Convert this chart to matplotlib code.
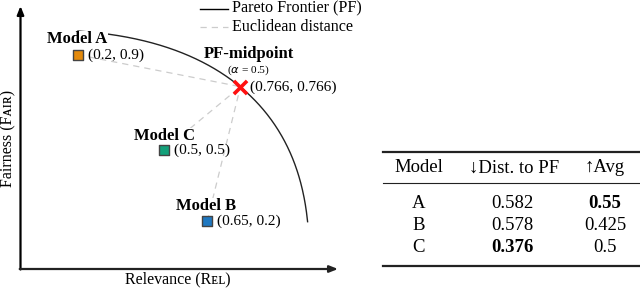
import numpy as np
import matplotlib
matplotlib.use("Agg")
import matplotlib.pyplot as plt

# ---- data ----
model_names = ["A", "B", "C"]
model_rel = [0.2, 0.65, 0.5]
model_fair = [0.9, 0.2, 0.5]
model_colors = ["#E48A0C", "#1F78C1", "#13A07A"]
mid_rel, mid_fair = 0.766, 0.766
alpha_val = 0.5
pf_exponent = 2.53          # shape of the frontier curve (superellipse)
pf_radius = 1.0066
pf_rel_range = (0.2, 1.0)

dist_to_pf = ["0.582", "0.578", "0.376"]
avg_vals = ["0.55", "0.425", "0.5"]
bold_dist = [False, False, True]
bold_avg = [True, False, False]

W, H = 640, 289
fig = plt.figure(figsize=(W / 100, H / 100), dpi=100)
ax = fig.add_axes([0, 0, 1, 1])
ax.set_axis_off()

# map data -> pixels: x_px = 20.6 + v*287 ; y_px(top) = 269 - v*238
x0, sx = 20.6, 287.0
y0, sy = 269.0, 238.0
ax.set_xlim((0 - x0) / sx, (W - x0) / sx)
ax.set_ylim((y0 - H) / sy, (y0 - 0) / sy)

FAM = ["Liberation Serif", "DejaVu Serif"]
plt.rcParams["font.family"] = FAM

def px(x, y):
    return ((x - x0) / sx, (y0 - y) / sy)

# axes arrows
ax.annotate("", xy=px(20.5, 6), xytext=px(20.5, 269.5),
            arrowprops=dict(arrowstyle="-|>,head_length=0.5,head_width=0.2", lw=1.6, color="black",
                            shrinkA=0, shrinkB=0))
ax.annotate("", xy=px(338, 269), xytext=px(19.7, 269),
            arrowprops=dict(arrowstyle="-|>,head_length=0.5,head_width=0.2", lw=1.6, color="#222222",
                            shrinkA=0, shrinkB=0))

# axis labels
ax.text(*px(178, 279), "Relevance (Rᴇʟ)", ha="center", va="center", fontsize=11.5, family=FAM)
ax.text(*px(8.5, 138), "Fairness (Fᴀɪʀ)", ha="center", va="center", fontsize=11.5,
        rotation=90, family=FAM)

# Pareto frontier
t = np.linspace(pf_rel_range[0], pf_rel_range[1], 400)
fy = np.clip(pf_radius ** pf_exponent - t ** pf_exponent, 0, None) ** (1 / pf_exponent)
ax.plot(t, fy, color="#222222", lw=1.0, zorder=2)

# dashed distance lines
for r, f in zip(model_rel, model_fair):
    ax.plot([r, mid_rel], [f, mid_fair], ls=(0, (5, 4)), color="#cccccc", lw=0.9, zorder=1)

# model markers
for r, f, c in zip(model_rel, model_fair, model_colors):
    ax.scatter([r], [f], marker="s", s=55, color=c, edgecolor="#444444", linewidth=1.0, zorder=4)

bb = dict(facecolor="white", edgecolor="none", pad=0.3)
# model labels
label_pos = {"A": (77.5, 39), "B": (206.5, 206), "C": (164, 136)}
for n, r, f in zip(model_names, model_rel, model_fair):
    lx, ly = label_pos[n]
    ax.text(*px(lx, ly), f"Model {n}", ha="center", va="center", fontsize=12,
            fontweight="bold", zorder=5, bbox=bb)
    cx = x0 + r * sx + 9.5
    cy = y0 - f * sy
    ax.text(*px(cx, cy), f"({r:g}, {f:g})", ha="left", va="center", fontsize=11,
            zorder=5)

# midpoint
ax.scatter([mid_rel], [mid_fair], marker="x", s=90, color="#FF1010", linewidth=2.6, zorder=6)
ax.text(*px(249, 54), "PF-midpoint", ha="center", va="center", fontsize=12,
        fontweight="bold", zorder=5)
ax.text(*px(248, 70), rf"($\alpha$ = {alpha_val:g})", ha="center", va="center", fontsize=8.2, zorder=5)
ax.text(*px(250, 87), f"({mid_rel:g}, {mid_fair:g})", ha="left", va="center", fontsize=11, zorder=5)

# legend
ax.plot([px(200, 9)[0], px(228, 9)[0]], [px(200, 9)[1]] * 2, color="black", lw=1.0)
ax.text(*px(231.5, 8), "Pareto Frontier (PF)", ha="left", va="center", fontsize=11.6)
ax.plot([px(200, 27)[0], px(228, 27)[0]], [px(200, 27)[1]] * 2, color="#cccccc",
        lw=0.9, ls=(0, (5, 4)))
ax.text(*px(231.5, 27), "Euclidean distance", ha="left", va="center", fontsize=11.6)

# table
def fx(x):
    return x / W
def fyy(y):
    return 1 - y / H

for y, lw in [(152, 1.6), (183, 0.8), (266, 1.6)]:
    fig.add_artist(plt.Line2D([fx(383), fx(640)], [fyy(y), fyy(y)], color="#222222", lw=lw))

cols = [418.5, 514, 605]
headers = ["Model", "↓Dist. to PF", "↑Avg"]
TS = 13.5
for cxp, h in zip(cols, headers):
    fig.text(fx(cxp), fyy(168), h, ha="center", va="center", fontsize=TS,
             family=["Liberation Serif", "DejaVu Sans"])
rows_y = [203, 225.5, 248]
for i, ry in enumerate(rows_y):
    fig.text(fx(cols[0]), fyy(ry), model_names[i], ha="center", va="center", fontsize=TS)
    fig.text(fx(cols[1] - 2), fyy(ry), dist_to_pf[i], ha="center", va="center", fontsize=TS,
             fontweight="bold" if bold_dist[i] else "normal")
    fig.text(fx(cols[2]), fyy(ry), avg_vals[i], ha="center", va="center", fontsize=TS,
             fontweight="bold" if bold_avg[i] else "normal")

fig.savefig("out.png", dpi=100)
